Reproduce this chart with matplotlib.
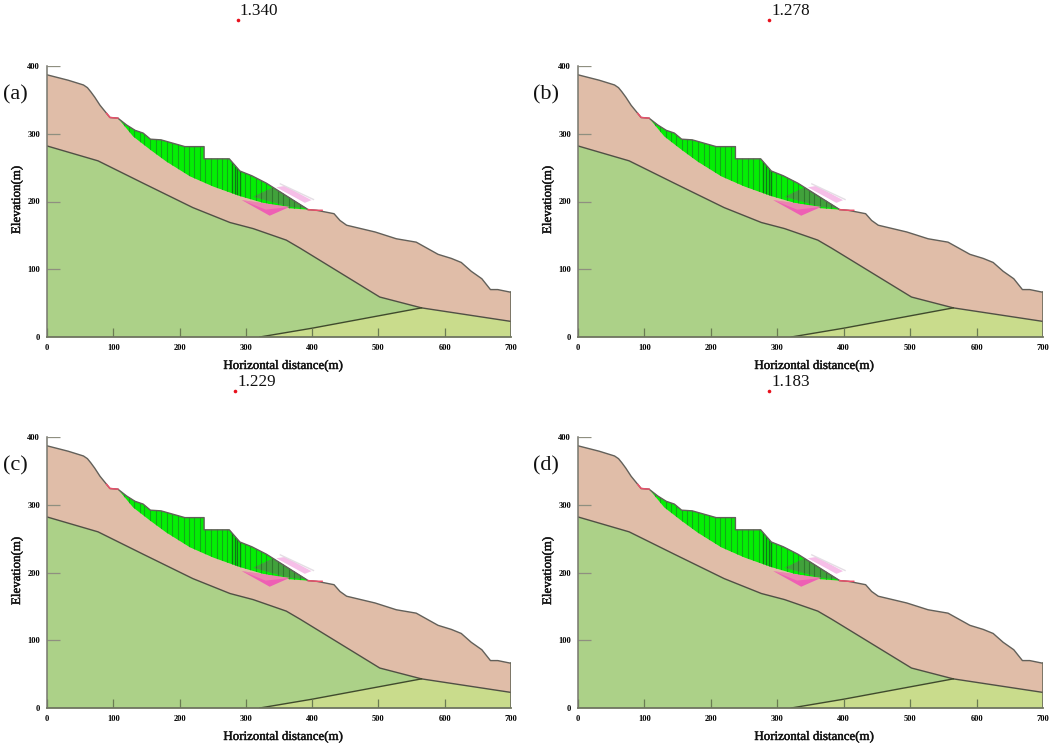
"""Slope stability panels (a)-(d) with critical slip surface and factor of safety"""
import matplotlib
matplotlib.use('Agg')
import matplotlib.pyplot as plt
import matplotlib.patheffects as pe
from matplotlib.patches import Polygon

plt.rcParams['font.family'] = ['Liberation Serif', 'DejaVu Serif']

W, H = 1052, 745

# ground surface
surface_x = [0, 32, 55, 61, 66, 72, 80, 90, 95, 107, 120, 133, 145, 156, 172, 208, 237, 237, 275, 291, 309, 331,
             394, 407, 433, 442, 452, 495, 527, 557, 590, 610, 625, 640, 656, 669, 680, 700]
surface_y = [387, 379, 372, 368, 362, 354, 342, 330, 324, 323, 313, 305, 301, 292, 291, 281, 281, 263, 263, 245, 238, 227,
             188, 187, 182, 172, 165, 155, 145, 140, 122, 116, 110, 97, 86, 70, 70, 66]
# boundary between upper and middle layer
interface_x = [0, 77, 145, 220, 276, 311, 361, 382, 472, 502, 565, 700]
interface_y = [282, 260, 227, 191, 169, 160, 143, 131, 77, 59, 43, 23]
# bottom layer wedge
wedge_x = [321, 400, 565]
wedge_y = [0, 13, 43]
# slip surface
slip_x = [107, 130, 155, 180, 216, 251, 291, 326, 366, 394]
slip_y = [323, 296, 277, 259, 237, 222, 208, 198, 190, 188]
# slice boundaries
slice_x = [116, 124, 132, 140, 147, 156, 164, 172, 181, 189, 197, 206, 214, 222, 231, 239, 247, 256, 264,
           272, 298, 306, 315, 323, 331, 340, 348, 356, 365, 373, 381]
dark_slice_x = [279, 283, 287, 291]
# passive wedge and overlays
pink_x = [294, 336, 366]
pink_y = [202, 179, 192]
light_pink_x = [346, 359, 399, 389]
light_pink_y = [221, 223, 202, 198]
overlay_x = [311, 341, 392, 366]
overlay_y = [207, 221, 190, 192]
# short red segments on the surface
red_x1 = [90, 95, 107]
red_y1 = [330, 324, 323]
red_x2 = [394, 407, 415]
red_y2 = [188, 187, 187]

panel_labels = ['(a)', '(b)', '(c)', '(d)']
factors = ['1.340', '1.278', '1.229', '1.183']
center_x = [288, 288, 284, 288]
center_y = [468, 468, 468, 468]
x_ticks = [0, 100, 200, 300, 400, 500, 600, 700]
y_ticks = [0, 100, 200, 300, 400]

# pixel boxes of the panels: left, right, top, bottom
boxes = [(47, 511, 66, 337), (578, 1043, 66, 337), (47, 511, 437, 708), (578, 1043, 437, 708)]


def fx(px):
    return px / W


def fy(py):
    return 1 - py / H


fig = plt.figure(figsize=(W / 100, H / 100), dpi=100, facecolor='white')
stroke = [pe.withStroke(linewidth=0.35, foreground='#222222')]

for i, (l, r, t, b) in enumerate(boxes):
    ax = fig.add_axes([fx(l), fy(b), (r - l) / W, (b - t) / H])
    ax.set_xlim(0, 700)
    ax.set_ylim(0, 400)
    ax.patch.set_alpha(0)

    # layers
    ax.fill(surface_x + interface_x[::-1], surface_y + interface_y[::-1], fc='#e0bda8', ec='none', zorder=1)
    ax.fill([0] + interface_x + wedge_x[::-1], [0] + interface_y + wedge_y[::-1], fc='#acd188', ec='none', zorder=1)
    ax.fill(wedge_x + [700, 700], wedge_y + [23, 0], fc='#c9dc8c', ec='none', zorder=1)

    # sliding mass
    top = [(x, y) for x, y in zip(surface_x, surface_y) if 107 <= x <= 394]
    mass = Polygon(top + list(zip(slip_x[::-1], slip_y[::-1])), closed=True, fc='#04ee04', ec='none', zorder=2)
    ax.add_patch(mass)
    ax.vlines(slice_x, 0, 400, colors='#12a818', lw=0.8, zorder=3).set_clip_path(mass)
    ax.vlines(dark_slice_x, 0, 400, colors='#0d7a14', lw=1.0, zorder=3).set_clip_path(mass)

    ax.fill(overlay_x, overlay_y, fc='#4c9446', alpha=0.85, ec='none', zorder=4)
    ax.vlines(slice_x, 0, 221, colors='#2f7a2c', lw=0.8, zorder=4).set_clip_path(
        Polygon(list(zip(overlay_x, overlay_y)), closed=True, transform=ax.transData))
    ax.fill(pink_x, pink_y, fc='#ee5fb4', ec='none', zorder=4)
    ax.fill([294, 366, 330], [202, 192, 188], fc='#eaa0ac', alpha=0.6, ec='none', zorder=4)
    ax.fill(light_pink_x, light_pink_y, fc='#f6bfe8', ec='none', zorder=4)
    ax.plot([352, 402], [226, 203], color='#e4dde4', lw=1.0, zorder=4)

    # outlines
    ax.plot(surface_x, surface_y, color='#62605a', lw=1.0, zorder=5)
    ax.plot(interface_x, interface_y, color='#504f44', lw=1.0, zorder=5)
    ax.plot(wedge_x, wedge_y, color='#3f4a2c', lw=1.0, zorder=5)
    ax.plot(red_x1, red_y1, color='#e8506a', lw=1.1, zorder=6)
    ax.plot(red_x2, red_y2, color='#e8506a', lw=1.1, zorder=6)
    ax.plot([700, 700], [0, 66], color='#6b6a5c', lw=1.2, zorder=5)

    # axes
    ax.spines['top'].set_visible(False)
    ax.spines['right'].set_visible(False)
    ax.spines['left'].set_color('#77776e')
    ax.spines['bottom'].set_color('#6f7560')
    ax.spines['left'].set_linewidth(1.1)
    ax.spines['bottom'].set_linewidth(1.3)
    ax.spines['left'].set_zorder(6)
    ax.spines['bottom'].set_zorder(6)
    ax.set_xticks(x_ticks)
    ax.set_yticks(y_ticks)
    ax.tick_params(length=0, labelsize=6, pad=5)
    for lab in ax.get_xticklabels() + ax.get_yticklabels():
        lab.set_fontweight('bold')
    # tick marks sit inside the plot, on top of the layers
    ax.vlines(x_ticks, 0, 14, colors='#6a7c52', lw=0.9, zorder=6)
    ax.hlines(y_ticks, 0, 20, colors='#8f8f80', lw=0.9, zorder=6)

    # centre of critical circle and factor of safety
    ax.plot(center_x[i], center_y[i], 'o', color='#e8101c', ms=2.6, mew=0, clip_on=False, zorder=7)
    ax.annotate(factors[i], xy=(center_x[i], center_y[i]), xytext=(1.5, 0.5), textcoords='offset points',
                fontsize=12.3, color='#111111', ha='left', va='bottom', annotation_clip=False)

    # labels
    fig.text(fx(l + 236), fy(b + 29), 'Horizontal distance(m)', fontsize=9.3, color='#111111',
             ha='center', va='center', path_effects=stroke)
    fig.text(fx(l - 30), fy(b - 137), 'Elevation(m)', fontsize=9.3, color='#111111', rotation=90,
             ha='center', va='center', path_effects=stroke)
    fig.text(fx(l - 32), fy(t + 28.5), panel_labels[i], fontsize=16, color='#111111', ha='center', va='center')

fig.savefig('out.png', dpi=100, facecolor='white')
